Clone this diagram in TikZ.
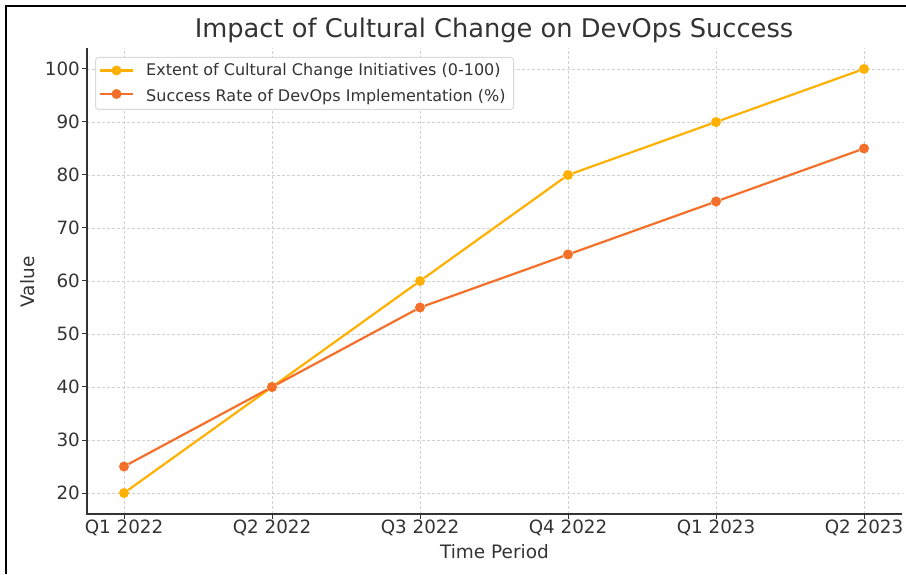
\documentclass[tikz,border=0pt]{standalone}
\usepackage{fontspec}
\setmainfont{DejaVu Sans}
\usetikzlibrary{positioning}
\definecolor{extcol}{HTML}{FFB000}
\definecolor{succol}{HTML}{F4702A}
\definecolor{axcol}{HTML}{333333}

\begin{document}
\begin{tikzpicture}[
        x=1pt, y=1pt,
        ticklabel/.style = {font=\fontsize{18.3}{20}\selectfont, text=axcol, inner sep=0pt},
        axlabel/.style = {font=\fontsize{18.5}{20}\selectfont, text=axcol, inner sep=0pt},
        legtext/.style = {font=\fontsize{16}{18}\selectfont, text=axcol, inner sep=0pt},
        gridline/.style = {draw=black!18, line width=0.8pt, dash pattern=on 3pt off 2pt},
        spine/.style = {draw=axcol, line width=1.4pt},
        dotA/.style = {circle, fill=extcol, inner sep=0pt, minimum size=10pt},
        dotB/.style = {circle, fill=succol, inner sep=0pt, minimum size=10pt},
        lineA/.style = {draw=extcol, line width=2.2pt},
        lineB/.style = {draw=succol, line width=2.2pt}
    ]
    \useasboundingbox (0,0) rectangle (906,574);
    \draw[line width=2.4pt] (6,0) -- (6,568) -- (906,568);

    \node[anchor=base, font=\fontsize{25.7}{28}\selectfont, text=axcol, inner sep=0pt] (title) at (494,536) {Impact of Cultural Change on DevOps Success};

    \begin{scope}[shift={(124pt,-25pt)}, x=148pt, y=5.3pt]
        % grid
        \foreach \i in {0,...,5}
            \draw[gridline] (\i,16.04) -- (\i,103.96);
        \foreach \v in {20,30,...,100}
            \draw[gridline] (-0.25,\v) -- (5.257,\v);

        % axes
        \draw[spine] (-0.25,103.96) -- (-0.25,16.04) -- (5.257,16.04);
        \foreach \v in {20,30,...,100} {
            \draw[axcol, line width=1pt] (-0.25,\v) -- ++(-5pt,0);
            \node[ticklabel, anchor=east] (ylab-\v) at ([xshift=-7pt]-0.25,\v) {\v};
        }
        \foreach \q [count=\i from 0] in {Q1 2022,Q2 2022,Q3 2022,Q4 2022,Q1 2023,Q2 2023} {
            \draw[axcol, line width=1pt] (\i,16.04) -- ++(0,-5pt);
            \node[ticklabel, anchor=north] (xlab-\i) at ([yshift=-6pt]\i,16.04) {\q};
        }

        % data
        \foreach \v [count=\i from 0] in {20,40,60,80,90,100}
            \node[dotA] (ext-\i) at (\i,\v) {};
        \draw[lineA] (ext-0) -- (ext-1) -- (ext-2) -- (ext-3) -- (ext-4) -- (ext-5);
        \foreach \v [count=\i from 0] in {25,40,55,65,75,85}
            \node[dotB] (suc-\i) at (\i,\v) {};
        \draw[lineB] (suc-0) -- (suc-1) -- (suc-2) -- (suc-3) -- (suc-4) -- (suc-5);
    \end{scope}

    \node[axlabel, rotate=90] (ylabel) at (28,292) {Value};
    \node[axlabel] (xlabel) at (494.5,22) {Time Period};

    % legend
    \node[draw=black!15, fill=white, rounded corners=3pt, line width=1pt, minimum width=418pt, minimum height=52pt, anchor=north west] (legend) at (95,517) {};
    \node[dotA] (lgdotA) at (116.5,503.5) {};
    \draw[lineA] ([xshift=-16.5pt]lgdotA.center) -- ([xshift=16.5pt]lgdotA.center);
    \node[legtext, anchor=base west] (lgtextA) at (146,498) {Extent of Cultural Change Initiatives (0-100)};
    \node[dotB] (lgdotB) at (116.5,480) {};
    \draw[lineB] ([xshift=-16.5pt]lgdotB.center) -- ([xshift=16.5pt]lgdotB.center);
    \node[legtext, anchor=base west] (lgtextB) at (146,472.5) {Success Rate of DevOps Implementation (\%)};
\end{tikzpicture}
\end{document}
